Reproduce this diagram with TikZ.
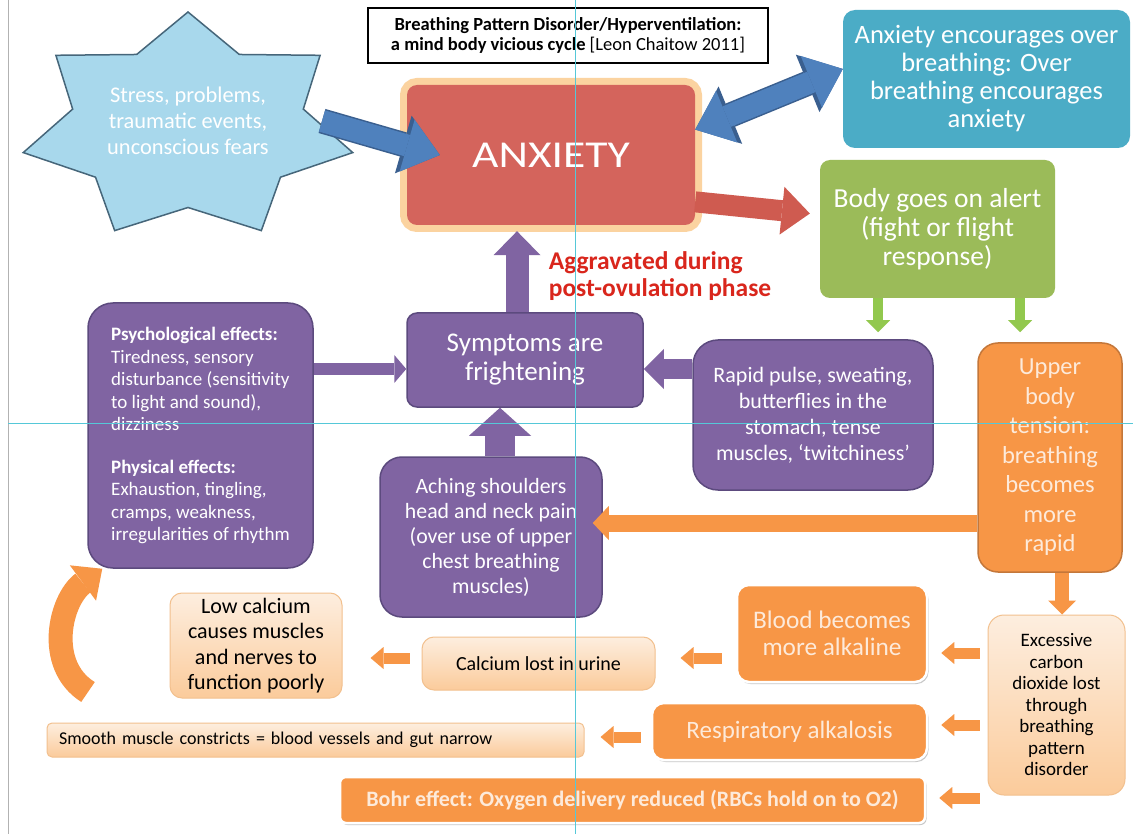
\documentclass[tikz,border=0pt]{standalone}
\usepackage{graphicx}
\usepackage{fontspec}
\setmainfont{Carlito}
\usetikzlibrary{arrows.meta}

\definecolor{purplefill}{HTML}{8064A2}
\definecolor{purpleline}{HTML}{5C4A7E}
\definecolor{orangefill}{HTML}{F79646}
\definecolor{orangeline}{HTML}{C4773A}
\definecolor{greenfill}{HTML}{9BBB59}
\definecolor{greenarrow}{HTML}{92C84E}
\definecolor{aquafill}{HTML}{4BACC6}
\definecolor{anxred}{HTML}{D4645C}
\definecolor{redarrow}{HTML}{CF5B50}
\definecolor{glow}{HTML}{FBD3A0}
\definecolor{blueA}{HTML}{4F81BD}
\definecolor{blueL}{HTML}{3A5F8F}
\definecolor{starfill}{HTML}{A8D8EC}
\definecolor{starline}{HTML}{46667A}
\definecolor{peachtop}{HTML}{FDEEDF}
\definecolor{peachbot}{HTML}{FBCB9B}
\definecolor{peachline}{HTML}{F2C08E}
\definecolor{cream}{HTML}{FDEADA}
\definecolor{aggred}{HTML}{D9261C}
\definecolor{guide}{HTML}{55C8D8}

\tikzset{
  box/.style={rounded corners=12pt, align=center, inner sep=0pt},
  titlebox/.style={draw=black, line width=2pt, fill=white, align=center, inner sep=0pt,
    minimum width=400pt, minimum height=55pt, font=\fontsize{18.5}{20}\selectfont},
  purplebox/.style={box, rounded corners=22pt, fill=purplefill, draw=purpleline, line width=1.5pt, text=white},
  orangebox/.style={box, fill=orangefill, draw=white, line width=2.5pt, text=cream,
    preaction={fill=black!22, transform canvas={xshift=1.5pt,yshift=-2pt}}},
  peachbox/.style={box, top color=peachtop, bottom color=peachbot, draw=peachline, line width=1pt, text=black},
  starshape/.style={fill=starfill, draw=starline, line width=1.5pt, line join=miter},
  fat/.style n args={4}{draw=#1, line width=#2, -{Triangle[width=#3,length=#4,line width=0pt 0 0]}},
  bluearrow/.style={fat={blueA}{22pt}{54pt}{34pt}, preaction={fat={blueL}{25pt}{60pt}{38pt}}},
  blueboth/.style={draw=blueA, line width=22pt,
    {Triangle[width=56pt,length=34pt,line width=0pt 0 0]}-{Triangle[width=56pt,length=34pt,line width=0pt 0 0]},
    preaction={draw=blueL, line width=25pt,
    {Triangle[width=62pt,length=38pt,line width=0pt 0 0]}-{Triangle[width=62pt,length=38pt,line width=0pt 0 0]}}},
  guideline/.style={draw=guide, line width=1pt},
}

\begin{document}
\begin{tikzpicture}[x=1pt, y=-1pt]
\useasboundingbox (0,0) rectangle (1133,834);
\fill[white] (0,0) rectangle (1133,834);

% star
\draw[starshape] (188,12) \foreach \k in {1,...,13}{
  -- ({188+169*(1-0.3*mod(\k,2))*cos(-90+\k*360/14)},{127+115*(1-0.3*mod(\k,2))*sin(-90+\k*360/14)}) } -- cycle;
\node[text=white, align=center, font=\fontsize{22.4}{26}\selectfont] (stress) at (188,121)
  {Stress, problems,\\traumatic events,\\unconscious fears};
\coordinate (stresstail) at (322,121);

% title
\node[titlebox] (title) at (568,35.5)
  {\textbf{Breathing Pattern Disorder/Hyperventilation:}\\\textbf{a mind body vicious cycle} [Leon Chaitow 2011]};

% top row
\node[box, rounded corners=10pt, fill=anxred, text=white, minimum width=288pt, minimum height=140pt,
  preaction={draw=glow, line width=14pt}, font=\fontsize{38}{40}\selectfont] (anxiety) at (551,155)
  {\scalebox{1.2}[1]{ANXIETY}};
\node[box, fill=aquafill, text=white, minimum width=287pt, minimum height=138pt,
  font=\fontsize{26.5}{28}\selectfont] (aqua) at (986.5,79)
  {Anxiety encourages over\\breathing: Over\\breathing encourages\\anxiety};
\node[box, rounded corners=10pt, fill=greenfill, text=white, minimum width=235pt, minimum height=138pt,
  font=\fontsize{27.5}{29}\selectfont] (alert) at (937.5,229)
  {Body goes on alert\\(fight or flight\\response)};
\node[text=aggred, align=left, font=\bfseries\fontsize{25.5}{27}\selectfont] (aggr) at (660,276)
  {Aggravated during\\post-ovulation phase};

% purple
\node[purplebox, rounded corners=10pt, minimum width=236pt, minimum height=94pt,
  font=\fontsize{27}{29}\selectfont] (sympt) at (525,360) {Symptoms are\\frightening};
\node[purplebox, rounded corners=25pt, align=left, minimum width=225pt, minimum height=265pt,
  font=\fontsize{19}{22.5}\selectfont] (psych) at (200.5,435.5)
  {\textbf{Psychological effects:}\\Tiredness, sensory\\disturbance (sensitivity\\to light and sound),\\dizziness\\[20pt]
   \textbf{Physical effects:}\\Exhaustion, tingling,\\cramps, weakness,\\irregularities of rhythm};
\node[purplebox, rounded corners=25pt, minimum width=240pt, minimum height=150pt,
  font=\fontsize{22}{26}\selectfont] (rapid) at (813,415)
  {Rapid pulse, sweating,\\butterflies in the\\stomach, tense\\muscles, ‘twitchiness’};
\node[purplebox, minimum width=222pt, minimum height=160pt,
  font=\fontsize{21.8}{25}\selectfont] (aching) at (491,537)
  {Aching shoulders\\head and neck pain\\(over use of upper\\chest breathing\\muscles)};

% orange
\node[box, rounded corners=20pt, fill=orangefill, draw=orangeline, line width=1.5pt, text=cream,
  minimum width=144pt, minimum height=229pt, font=\fontsize{24.5}{29.5}\selectfont] (upper) at (1050,457.5)
  {Upper\\body\\tension:\\breathing\\becomes\\more\\rapid};
\node[peachbox, rounded corners=16pt, minimum width=137pt, minimum height=180pt,
  font=\fontsize{19}{21.5}\selectfont] (excess) at (1056.5,705)
  {Excessive\\carbon\\dioxide lost\\through\\breathing\\pattern\\disorder};
\node[orangebox, minimum width=190pt, minimum height=97pt,
  font=\fontsize{25.3}{27}\selectfont] (blood) at (832,633.5) {Blood becomes\\more alkaline};
\node[orangebox, minimum width=275pt, minimum height=57pt,
  font=\fontsize{25}{27}\selectfont] (resp) at (789.5,731.5) {Respiratory alkalosis};
\node[orangebox, rounded corners=6pt, minimum width=585pt, minimum height=46pt,
  font=\bfseries\fontsize{22}{24}\selectfont] (bohr) at (632.5,800)
  {Bohr effect: Oxygen delivery reduced (RBCs hold on to O2)};
\node[peachbox, minimum width=233pt, minimum height=53pt,
  font=\fontsize{20}{24}\selectfont] (calc) at (538.5,663.5) {Calcium lost in urine};
\node[peachbox, minimum width=172pt, minimum height=105pt,
  font=\fontsize{22}{25.5}\selectfont] (lowcal) at (256,645.5)
  {Low calcium\\causes muscles\\and nerves to\\function poorly};
\node[peachbox, rounded corners=5pt, minimum width=537pt, minimum height=34pt, text width=513pt, align=left,
  font=\fontsize{18}{20}\selectfont] (smooth) at (315.5,740)
  {Smooth muscle constricts = blood vessels and gut narrow};

% arrows
\draw[bluearrow] (stresstail) -- ([xshift=33pt]anxiety.west);
\draw[blueboth] (anxiety.10) -- (aqua.176);
\draw[fat={redarrow}{21pt}{48pt}{28pt}, shorten >=10pt] (anxiety.-18) -- (alert.173);
\draw[fat={purplefill}{23pt}{47pt}{24pt}, shorten >=6pt] ([xshift=-8pt]sympt.north) -- ([xshift=-8pt]sympt.north |- anxiety.south);
\coordinate (symin) at ([yshift=-9pt]sympt.west);
\draw[fat={purplefill}{12pt}{28pt}{12pt}] (psych.east |- symin) -- (symin);
\draw[fat={purplefill}{20pt}{40pt}{20pt}] (rapid.west |- symin) -- (symin -| sympt.east);
\draw[fat={purplefill}{30pt}{62pt}{28pt}] ([xshift=9pt]aching.north) -- ([xshift=9pt]aching.north |- sympt.south);
\draw[fat={greenarrow}{10pt}{24pt}{12pt}, shorten >=7pt] ([xshift=-59.5pt]alert.south) -- ([xshift=-59.5pt]alert.south |- rapid.north);
\draw[fat={greenarrow}{10pt}{24pt}{12pt}, shorten >=10pt] ([xshift=82.5pt]alert.south) -- ([xshift=82.5pt]alert.south |- upper.north);
\draw[fat={orangefill}{17pt}{34pt}{16pt}, shorten >=-10pt] ([yshift=-65.5pt]upper.west) -- ([yshift=-65.5pt]upper.west -| aching.east);
\draw[fat={orangefill}{14pt}{28pt}{14pt}] ([xshift=12pt]upper.south) -- ([xshift=12pt]upper.south |- excess.north);
\foreach \yy/\tgt in {653/blood,725/resp,798/bohr}
  \draw[fat={orangefill}{11pt}{22pt}{13pt}, shorten <=8pt, shorten >=13pt] (excess.west |- 0,\yy) -- (\tgt.east |- 0,\yy);
\draw[fat={orangefill}{11pt}{22pt}{13pt}, shorten <=14pt, shorten >=25pt] (blood.west |- 0,658) -- (calc.east |- 0,658);
\draw[fat={orangefill}{11pt}{22pt}{13pt}, shorten <=12pt, shorten >=28pt] (calc.west |- 0,658) -- (lowcal.east |- 0,658);
\draw[fat={orangefill}{11pt}{22pt}{13pt}, shorten <=10pt, shorten >=16pt] (resp.west |- 0,737) -- (smooth.east |- 0,737);
\coordinate (curltail) at (88,692);
\draw[fat={orangefill}{24pt}{44pt}{24pt}] (curltail) .. controls (45,665) and (60,600) .. ([xshift=15pt]psych.south west);

% guide lines
\draw[gray!60, line width=1pt] (8,0) -- (8,834);
\draw[guideline] (575,0) -- (575,834);
\draw[guideline] (8,423) -- (1133,423);
\end{tikzpicture}
\end{document}
